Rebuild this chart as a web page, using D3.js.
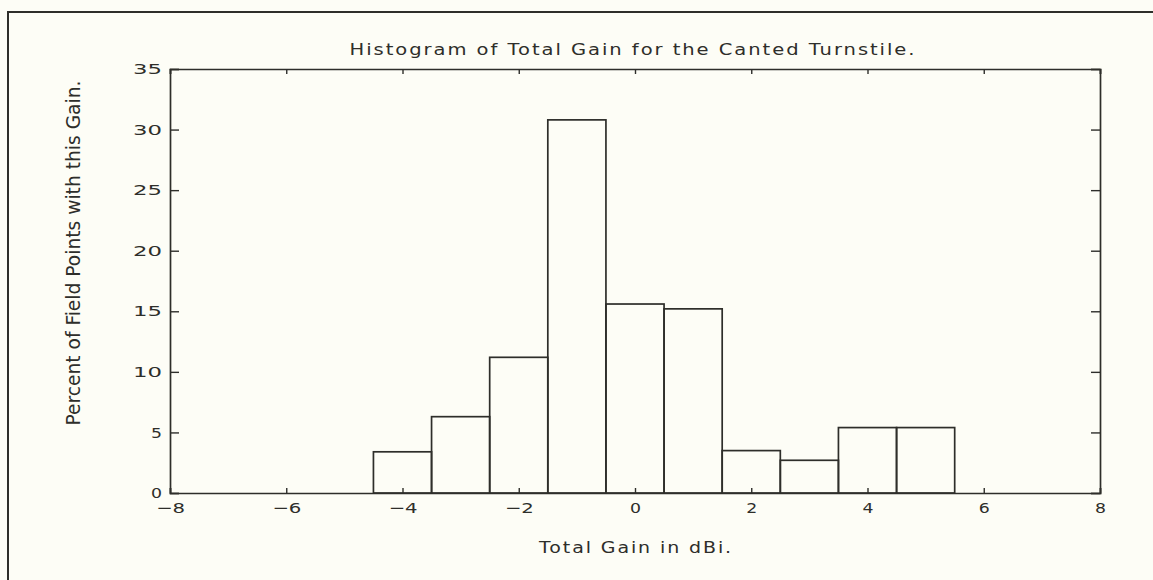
<!DOCTYPE html>
<html>
<head>
<meta charset="utf-8">
<script src="https://cdn.jsdelivr.net/npm/d3@7"></script>
<style>
  html, body { margin: 0; padding: 0; background: #fdfdf6; }
  svg { display: block; }
</style>
</head>
<body>
<svg id="chart" width="1153" height="580"></svg>
<script>
// ---- data ----
const binCenters = [-4, -3, -2, -1, 0, 1, 2, 3, 4, 5];
const percents   = [3.4, 6.3, 11.2, 30.8, 15.6, 15.2, 3.5, 2.7, 5.4, 5.4];
const binWidth = 1;
const xTicks = [-8, -6, -4, -2, 0, 2, 4, 6, 8];
const yTicks = [0, 5, 10, 15, 20, 25, 30, 35];
const titleText = "Histogram of Total Gain for the Canted Turnstile.";
const xLabelText = "Total Gain in dBi.";
const yLabelText = "Percent of Field Points with this Gain.";

// ---- layout ----
const W = 1153, H = 580;
const plot = { left: 170, right: 1100, top: 69, bottom: 493 };
const ink = "#2e2e2a";
const svg = d3.select("#chart");

svg.append("rect").attr("x", 0).attr("y", 0).attr("width", W).attr("height", H).attr("fill", "#fdfdf6");

// outer frame (top and left edges visible)
svg.append("path")
  .attr("d", `M8,${H} L8,12 L${W},12`)
  .attr("fill", "none").attr("stroke", ink).attr("stroke-width", 2);

const x = d3.scaleLinear().domain([-8, 8]).range([plot.left, plot.right]);
const y = d3.scaleLinear().domain([0, 35]).range([plot.bottom, plot.top]);

const fmt = d => d < 0 ? "\u2212" + Math.abs(d) : String(d);
const tickFont = "'DejaVu Sans', Verdana, sans-serif";

// bars
svg.append("g").selectAll("rect").data(binCenters).join("rect")
  .attr("x", (d) => x(d - binWidth / 2))
  .attr("width", (d) => x(d + binWidth / 2) - x(d - binWidth / 2))
  .attr("y", (d, i) => y(percents[i]))
  .attr("height", (d, i) => y(0) - y(percents[i]))
  .attr("fill", "none").attr("stroke", ink).attr("stroke-width", 1.7);

// axes
const axB = d3.axisBottom(x).tickValues(xTicks).tickSize(-5).tickPadding(10).tickFormat(fmt);
const axT = d3.axisTop(x).tickValues(xTicks).tickSize(-5).tickFormat("");
const axL = d3.axisLeft(y).tickValues(yTicks).tickSize(-9).tickPadding(8).tickFormat(fmt);
const axR = d3.axisRight(y).tickValues(yTicks).tickSize(-9).tickFormat("");

function style(g) {
  g.selectAll("path.domain").attr("stroke", ink).attr("stroke-width", 1.7);
  g.selectAll(".tick line").attr("stroke", ink).attr("stroke-width", 1.4);
  g.selectAll(".tick text").attr("fill", ink).attr("font-family", tickFont)
    .attr("font-size", 14.5)
    .each(function () {
      const t = d3.select(this);
      const n = t.text().length;
      if (n > 0) t.attr("textLength", n === 1 ? 11 : 29).attr("lengthAdjust", "spacingAndGlyphs");
    });
}
svg.append("g").attr("transform", `translate(0,${plot.bottom})`).call(axB).call(style);
svg.append("g").attr("transform", `translate(0,${plot.top})`).call(axT).call(style);
svg.append("g").attr("transform", `translate(${plot.left},0)`).call(axL).call(style);
svg.append("g").attr("transform", `translate(${plot.right},0)`).call(axR).call(style);

// title
svg.append("text")
  .attr("x", 633).attr("y", 55).attr("text-anchor", "middle")
  .attr("font-family", tickFont).attr("font-size", 15).attr("fill", ink)
  .attr("letter-spacing", 1.5)
  .attr("textLength", 567).attr("lengthAdjust", "spacingAndGlyphs")
  .text(titleText);

// x label
svg.append("text")
  .attr("x", 636).attr("y", 553).attr("text-anchor", "middle")
  .attr("font-family", tickFont).attr("font-size", 15).attr("fill", ink)
  .attr("letter-spacing", 1.5)
  .attr("textLength", 194).attr("lengthAdjust", "spacingAndGlyphs")
  .text(xLabelText);

// y label
svg.append("text")
  .attr("transform", "translate(80,253) rotate(-90)")
  .attr("text-anchor", "middle")
  .attr("font-family", "'Liberation Sans Narrow', 'DejaVu Sans Condensed', sans-serif")
  .attr("font-size", 19).attr("fill", ink)
  .attr("textLength", 345).attr("lengthAdjust", "spacingAndGlyphs")
  .text(yLabelText);
</script>
</body>
</html>
